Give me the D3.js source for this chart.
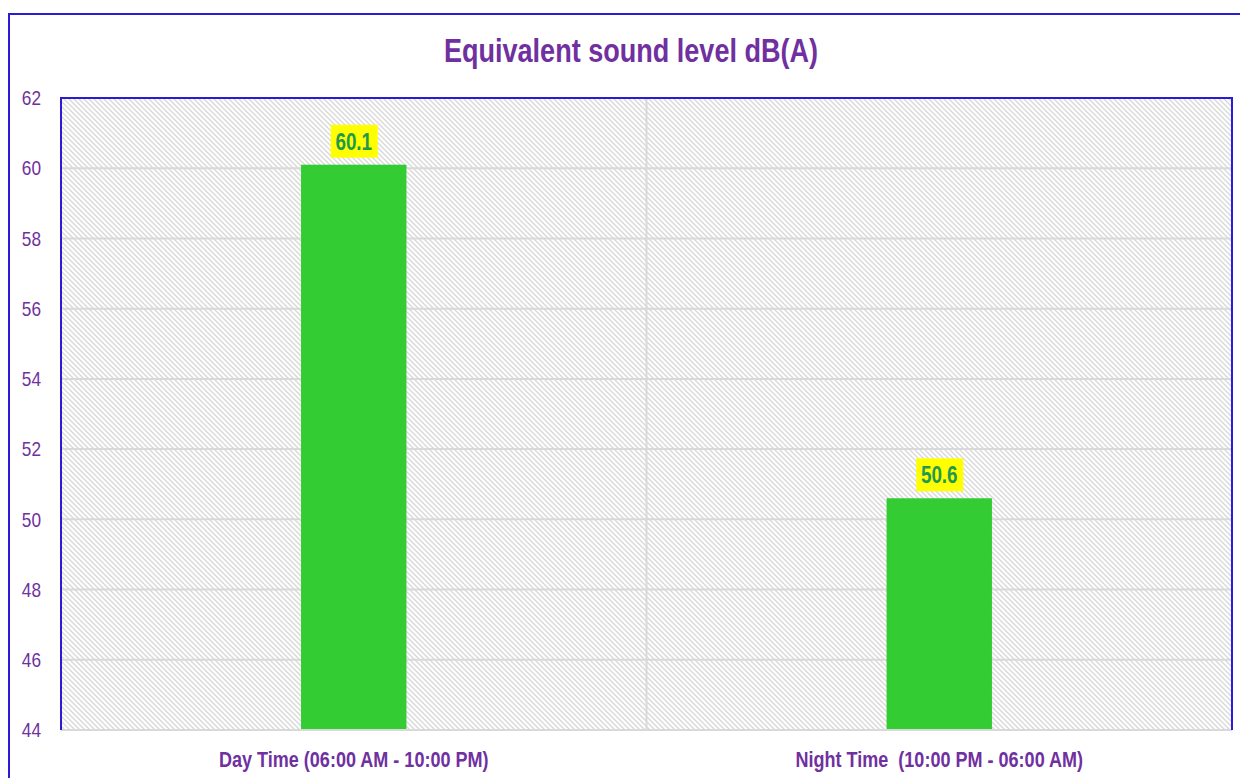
<!DOCTYPE html>
<html>
<head>
<meta charset="utf-8">
<script src="https://cdn.jsdelivr.net/npm/d3@7"></script>
<style>
  body { margin: 0; background: #fff; }
  svg { display: block; }
  text { font-family: "Liberation Sans Narrow", "Arial Narrow", "Liberation Sans", Arial, sans-serif; }
</style>
</head>
<body>
<div id="chart"></div>
<script>

// chart data
var categories = ["Day Time (06:00 AM - 10:00 PM)", "Night Time\u00a0 (10:00 PM - 06:00 AM)"];
var values = [60.1, 50.6];
var yTicks = [44, 46, 48, 50, 52, 54, 56, 58, 60, 62];
var chartTitle = "Equivalent sound level dB(A)";

// init size
var width = 1240;
var height = 778;
var plot = {left: 61, right: 1232, top: 98, bottom: 730};

// no narrow font installed, so squeeze text horizontally
var squeeze = 0.82;

var purple = "#7030a0";
var blue = "#2b1bd6";

var svg = d3.select("#chart")
    .append("svg")
    .attr("width", width)
    .attr("height", height);

// hatch pattern for plot background
var defs = svg.append("defs");
var pattern = defs.append("pattern")
    .attr("id", "hatch")
    .attr("patternUnits", "userSpaceOnUse")
    .attr("width", 5)
    .attr("height", 5);

pattern.append("rect")
    .attr("width", 5)
    .attr("height", 5)
    .attr("fill", "#fefefe");

pattern.append("path")
    .attr("d", "M-1,-1 L6,6 M-1,4 L1,6 M4,-1 L6,1")
    .attr("stroke", "#d8d8d8")
    .attr("stroke-width", 1.3);

// init scales
var x = d3.scaleBand()
    .domain(categories)
    .range([plot.left, plot.right]);

var y = d3.scaleLinear()
    .domain([44, 62])
    .range([plot.bottom, plot.top]);

// outer frame
svg.append("rect")
    .attr("x", 9)
    .attr("y", 14)
    .attr("width", 1250)
    .attr("height", 800)
    .attr("fill", "none")
    .attr("stroke", blue)
    .attr("stroke-width", 2);

// plot background
svg.append("rect")
    .attr("x", plot.left)
    .attr("y", plot.top)
    .attr("width", plot.right - plot.left)
    .attr("height", plot.bottom - plot.top)
    .attr("fill", "url(#hatch)");

// horizontal grid
svg.append("g")
    .selectAll("line")
    .data(yTicks.slice(1, -1))
    .enter().append("line")
    .attr("x1", plot.left)
    .attr("x2", plot.right)
    .attr("y1", d => y(d))
    .attr("y2", d => y(d))
    .attr("stroke", "#d9d9d9")
    .attr("stroke-width", 2);

// vertical category divider
svg.append("line")
    .attr("x1", x(categories[1]))
    .attr("x2", x(categories[1]))
    .attr("y1", plot.top)
    .attr("y2", plot.bottom)
    .attr("stroke", "#d9d9d9")
    .attr("stroke-width", 2);

// bars
var barWidth = x.bandwidth() * 0.18;

svg.append("g")
    .selectAll("rect")
    .data(values)
    .enter().append("rect")
    .attr("x", (d, i) => x(categories[i]) + x.bandwidth() / 2 - barWidth / 2)
    .attr("y", d => y(d))
    .attr("width", barWidth)
    .attr("height", d => plot.bottom - y(d))
    .attr("fill", "#33cc33");

// x axis line
svg.append("line")
    .attr("x1", plot.left)
    .attr("x2", plot.right)
    .attr("y1", plot.bottom)
    .attr("y2", plot.bottom)
    .attr("stroke", "#d9d9d9")
    .attr("stroke-width", 2);

// plot border (top, left, right)
svg.append("path")
    .attr("d", "M" + plot.left + "," + plot.bottom + "V" + plot.top + "H" + plot.right + "V" + plot.bottom)
    .attr("fill", "none")
    .attr("stroke", blue)
    .attr("stroke-width", 2);

// y axis labels
var yAxis = d3.axisLeft(y)
    .tickValues(yTicks)
    .tickSize(0);

var yAxisG = svg.append("g")
    .attr("transform", "translate(" + plot.left + ",0)")
    .call(yAxis);

yAxisG.select(".domain").remove();
yAxisG.selectAll("text")
    .attr("x", -20 / squeeze)
    .attr("transform", "scale(" + squeeze + ",1)")
    .attr("font-size", 21)
    .attr("fill", purple);

// x axis labels
var xAxis = d3.axisBottom(x)
    .tickSize(0);

var xAxisG = svg.append("g")
    .attr("transform", "translate(0," + plot.bottom + ")")
    .call(xAxis);

xAxisG.select(".domain").remove();
xAxisG.selectAll("text")
    .attr("y", 37)
    .attr("dy", null)
    .attr("transform", "scale(" + squeeze + ",1)")
    .attr("font-size", 22)
    .attr("font-weight", "bold")
    .attr("fill", purple);

// data labels
var labels = svg.append("g")
    .selectAll("g")
    .data(values)
    .enter().append("g")
    .attr("transform", (d, i) => "translate(" + (x(categories[i]) + x.bandwidth() / 2) + "," + y(d) + ")");

labels.append("rect")
    .attr("x", -23)
    .attr("y", -40)
    .attr("width", 47)
    .attr("height", 33)
    .attr("fill", "#ffff00");

labels.append("text")
    .attr("text-anchor", "middle")
    .attr("y", -15)
    .attr("transform", "scale(" + squeeze + ",1)")
    .attr("font-size", 23)
    .attr("font-weight", "bold")
    .attr("fill", "#1e9a50")
    .text(d => d.toFixed(1));

// title
svg.append("g")
    .attr("transform", "translate(631,62) scale(" + squeeze + ",1)")
    .append("text")
    .attr("text-anchor", "middle")
    .attr("font-size", 33)
    .attr("font-weight", "bold")
    .attr("fill", purple)
    .text(chartTitle);

</script>
</body>
</html>
